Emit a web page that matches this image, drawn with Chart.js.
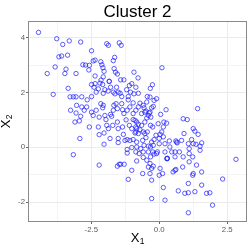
<!DOCTYPE html>
<html>
<head>
<meta charset="utf-8">
<script src="https://cdn.jsdelivr.net/npm/chart.js@4.4.1/dist/chart.umd.min.js"></script>
<style>
html,body{margin:0;padding:0;background:#fff;}
#wrap{width:249px;height:249px;position:relative;}
</style>
</head>
<body>
<div id="wrap"><canvas id="c" width="249" height="249"></canvas></div>
<script>
// ---- data ----
const chartTitle = "Cluster 2";
const xAxisLabel = ["X", "1"];
const yAxisLabel = ["X", "2"];
const xMajorTicks = [-2.5, 0, 2.5];
const xMinorTicks = [-3.75, -1.25, 1.25];
const yMajorTicks = [-2, 0, 2, 4];
const yMinorTicks = [-1, 1, 3];

const x1 = [
-4.44,-3.77,-3.55,-3.31,-2.89,-2.49,-1.93,-1.87,-1.47,-1.40,
-3.69,-3.59,-3.37,-1.64,-1.69,-3.83,-4.12,-3.43,-3.47,-3.06,
-3.90,-3.35,-3.28,-3.16,-3.06,-2.85,-3.04,
-2.81,-2.71,-2.57,-2.59,-2.43,-2.36,-2.15,-2.11,-2.07,-2.03,
-1.66,-1.61,-1.54,-2.36,-2.06,-1.42,-1.30,-0.93,-0.78,-1.84,-2.14,
-2.49,-2.36,-2.40,-2.32,-2.24,-2.18,-2.08,-2.00,-2.06,-1.84,-1.79,-1.57,-1.51,-1.63,-1.44,-1.38,-1.20,-1.10,-1.01,-0.86,-0.77,-0.93,
-1.88,-1.69,-1.14,-1.06,
-2.65,-2.49,-2.85,-2.76,-2.67,-2.49,-2.32,-2.43,-2.15,-2.06,-2.08,-2.21,-2.00,-1.96,-1.79,-1.69,-1.67,-1.59,-1.54,-1.38,-1.35,-1.30,-1.18,-1.08,-0.96,-0.86,-0.77,-0.71,-0.59,-0.46,-0.44,
-0.53,-0.65,-0.83,-0.96,-1.10,-1.35,-1.51,-1.71,-1.93,-2.24,-2.57,-0.53,
-1.14,-0.96,
-3.26,-3.06,-2.89,-2.94,-3.10,-2.92,-3.16,-2.03,-2.21,-1.81,-2.03,-1.51,-1.51,-1.32,-1.26,-1.18,-1.08,-0.96,-0.83,-1.18,-1.18,-0.86,-0.83,-2.21,-1.54,-1.47,-1.42,-1.29,-1.14,-0.74,
-1.54,-1.87,-1.22,-0.83,-1.75,
0.10,-0.25,-0.33,-0.34,-0.19,-0.10,-0.28,-0.22,-0.34,0.05,0.25,1.41,0.88,1.03,-0.56,-0.40,-0.46,
-0.65,-0.49,-0.37,-0.31,
-0.89,-0.77,-0.86,-1.01,-0.71,-0.59,-0.77,-0.89,
-0.32,-0.24,-0.04,0.15,0.27,0.09,-0.12,-0.19,0.00,
-0.53,-0.44,-0.49,-0.61,-0.56,-0.40,-0.28,-0.32,-0.24,-0.40,-0.59,
-0.83,-0.68,-0.86,-1.01,-0.59,
-0.34,-0.40,-0.28,-0.22,-0.46,-0.32,-0.10,-0.19,
-0.61,-0.28,0.03,0.29,0.30,0.28,
0.21,0.21,0.37,0.39,0.46,0.58,0.58,0.74,0.64,0.82,0.91,1.07,1.19,1.25,1.10,1.25,1.31,1.43,1.56,1.50,1.50,1.10,0.88,1.10,1.37,1.56,
2.82,0.58,0.51,0.61,2.33,1.25,1.23,1.07,0.15,0.70,0.94,1.07,1.31,1.74,1.86,-0.28,0.21,1.96,0.00,1.07,-1.01,1.56,0.86,
0.17,0.03,0.15,-0.22,0.00,-0.07,0.61,0.66,1.35,1.23,0.12,-0.34
];
const x2 = [
4.19,3.96,3.75,3.88,3.84,3.52,3.78,3.72,3.81,3.72,
3.30,3.33,3.36,3.28,3.16,2.93,2.69,2.85,2.69,2.69,
1.93,2.15,1.84,1.84,1.84,1.84,1.53,
3.01,3.00,2.99,2.82,3.15,3.18,3.12,3.01,2.90,2.77,
2.87,2.74,2.67,2.60,2.57,2.46,2.46,2.74,2.53,2.40,2.45,
2.29,2.32,2.19,2.01,2.13,2.34,2.29,2.10,1.97,2.41,2.19,2.19,2.01,1.95,1.97,1.85,2.10,2.25,2.32,2.19,1.97,1.95,
2.05,2.01,1.73,2.01,
1.73,1.85,1.47,1.35,1.47,1.28,1.35,1.16,1.59,1.53,1.44,1.10,1.16,1.01,1.20,1.35,1.53,1.59,1.41,1.59,1.37,1.23,1.35,1.47,1.23,1.35,1.47,1.61,1.53,1.65,1.85,
0.92,0.80,0.92,1.01,0.80,0.74,0.68,0.80,0.80,0.74,0.74,1.28,
1.85,1.62,
1.35,1.25,1.13,0.96,0.92,0.32,-0.27,0.52,0.46,0.32,0.11,0.32,0.17,0.47,0.25,0.28,0.25,0.28,0.19,-0.08,-0.21,0.56,-0.50,-0.65,-0.69,-0.62,-0.62,-0.62,-1.17,-0.23,
0.92,0.68,1.00,0.68,1.13,
2.90,2.28,2.15,1.83,1.71,1.77,1.44,1.49,1.28,1.20,1.37,1.41,1.04,1.01,1.44,1.16,1.07,
1.23,1.32,1.25,1.10,
0.98,0.84,0.74,0.68,0.64,0.56,0.50,0.52,
0.80,0.74,0.86,0.74,0.88,0.56,0.44,0.28,0.32,
0.50,0.56,0.35,0.25,0.07,0.04,0.19,0.01,-0.17,-0.17,-0.17,
0.01,-0.05,-0.17,-0.01,-0.37,
-0.59,-0.72,-0.77,-0.69,-0.47,-0.35,-0.23,-0.25,
-0.96,-1.20,-0.77,-0.41,-0.40,-0.42,
-0.17,0.13,0.23,0.01,-0.17,-0.17,-0.35,-0.17,0.19,0.25,0.50,0.13,0.28,0.13,-0.05,0.68,0.59,0.47,0.16,0.04,-0.11,-0.23,-0.35,-0.53,-0.65,-0.90,
-0.44,-0.84,-0.90,-0.81,-1.16,-0.96,-1.02,-1.32,-1.47,-1.59,-1.68,-1.66,-1.62,-1.68,-1.66,-1.87,-1.93,-2.11,-1.02,-2.39,-0.84,-1.38,-0.72,
0.92,0.47,0.38,0.07,0.13,-0.17,0.23,0.16,0.11,-0.35,-0.96,-0.96
];

const points = x1.map((v, i) => ({ x: v, y: x2[i] }));

const FONT = '"Liberation Sans", Arial, Helvetica, sans-serif';
Chart.defaults.font.family = FONT;

const isMajor = (arr, v) => arr.some(m => Math.abs(m - v) < 1e-9);

const decorations = {
  id: 'decorations',
  afterDraw(chart) {
    const ctx = chart.ctx;
    const ca = chart.chartArea;
    ctx.save();
    // panel border
    ctx.strokeStyle = '#8a8a8a';
    ctx.lineWidth = 1;
    ctx.strokeRect(ca.left - 0.5, ca.top - 0.5, ca.right - ca.left + 1, ca.bottom - ca.top + 1);
    // title
    ctx.fillStyle = '#000';
    ctx.font = '17px ' + FONT;
    ctx.textAlign = 'center';
    ctx.textBaseline = 'alphabetic';
    ctx.fillText(chartTitle, (ca.left + ca.right) / 2, 17);
    // axis title helper
    function subTitle(parts, cx, baseY) {
      ctx.font = '13px ' + FONT;
      const w1 = ctx.measureText(parts[0]).width;
      ctx.font = '8.5px ' + FONT;
      const w2 = ctx.measureText(parts[1]).width;
      const start = cx - (w1 + w2) / 2;
      ctx.textAlign = 'left';
      ctx.font = '13px ' + FONT;
      ctx.fillText(parts[0], start, baseY);
      ctx.font = '8.5px ' + FONT;
      ctx.fillText(parts[1], start + w1 + 0.3, baseY + 2);
    }
    subTitle(xAxisLabel, (ca.left + ca.right) / 2, 241.5);
    ctx.save();
    ctx.translate(10, (ca.top + ca.bottom) / 2);
    ctx.rotate(-Math.PI / 2);
    subTitle(yAxisLabel, 0, 0);
    ctx.restore();
    ctx.restore();
  }
};

new Chart(document.getElementById('c'), {
  type: 'scatter',
  data: {
    datasets: [{
      data: points,
      backgroundColor: 'rgba(0,0,0,0)',
      borderColor: '#1a1aff',
      borderWidth: 0.7,
      pointRadius: 2.2,
      pointHoverRadius: 2.2
    }]
  },
  options: {
    responsive: false,
    animation: false,
    devicePixelRatio: 1,
    layout: { padding: { top: 22, right: 3, left: 0, bottom: 0 } },
    plugins: { legend: { display: false }, title: { display: false }, tooltip: { enabled: false } },
    scales: {
      x: {
        type: 'linear',
        min: -4.79, max: 3.19,
        afterBuildTicks: s => { s.ticks = [...xMinorTicks, ...xMajorTicks].sort((a,b)=>a-b).map(v => ({ value: v })); },
        afterFit: s => { s.height = 28; },
        border: { display: false },
        grid: {
          color: c => isMajor(xMajorTicks, c.tick.value) ? '#ebebeb' : '#f4f4f4',
          lineWidth: 1,
          tickLength: 3,
          tickColor: c => isMajor(xMajorTicks, c.tick.value) ? '#666' : 'rgba(0,0,0,0)'
        },
        ticks: {
          autoSkip: false, maxRotation: 0, padding: 1,
          color: '#5a5a5a', font: { size: 7.8 },
          callback: v => isMajor(xMajorTicks, v) ? v.toFixed(1) : ''
        }
      },
      y: {
        type: 'linear',
        min: -2.69, max: 4.57,
        afterBuildTicks: s => { s.ticks = [...yMinorTicks, ...yMajorTicks].sort((a,b)=>a-b).map(v => ({ value: v })); },
        afterFit: s => { s.width = 29; },
        border: { display: false },
        grid: {
          color: c => isMajor(yMajorTicks, c.tick.value) ? '#ebebeb' : '#f4f4f4',
          lineWidth: 1,
          tickLength: 3,
          tickColor: c => isMajor(yMajorTicks, c.tick.value) ? '#666' : 'rgba(0,0,0,0)'
        },
        ticks: {
          autoSkip: false, padding: 1,
          color: '#5a5a5a', font: { size: 7.8 },
          callback: v => isMajor(yMajorTicks, v) ? String(v) : ''
        }
      }
    }
  },
  plugins: [decorations]
});
</script>
</body>
</html>
